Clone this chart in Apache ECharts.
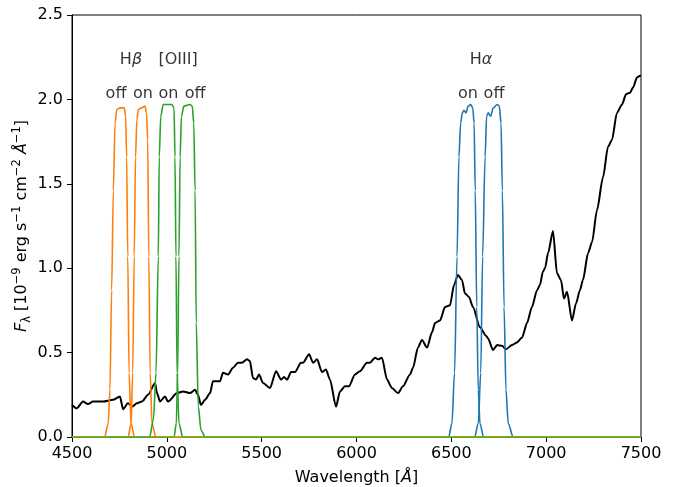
<!DOCTYPE html>
<html>
<head>
<meta charset="utf-8">
<script src="https://cdn.jsdelivr.net/npm/echarts@6/dist/echarts.min.js"></script>
<style>
html,body{margin:0;padding:0;background:#fff;}
#chart{width:684px;height:487px;}
</style>
</head>
<body>
<div id="chart"></div>
<script>
// ---- Data ----
const xTicks = [4500, 5000, 5500, 6000, 6500, 7000, 7500];
const yTicks = [0.0, 0.5, 1.0, 1.5, 2.0, 2.5];

const specWave = [4500,4525,4558,4584,4611,4663,4716,4753,4769,4795,4816,4843,4869,4901,4938,4948,4964,4990,5006,5054,5085,5122,5149,5164,5180,5201,5228,5243,5280,5296,5322,5349,5375,5396,5423,5438,5454,5470,5486,5507,5544,5576,5602,5618,5634,5655,5676,5707,5718,5750,5771,5792,5818,5839,5860,5892,5913,5939,5960,5992,6018,6055,6071,6098,6113,6134,6161,6187,6219,6245,6282,6298,6324,6345,6372,6398,6414,6440,6467,6493,6514,6535,6556,6572,6593,6614,6651,6683,6693,6720,6741,6767,6788,6820,6846,6873,6899,6925,6952,6967,6983,6994,7010,7036,7057,7078,7094,7110,7136,7157,7178,7194,7221,7242,7268,7300,7326,7347,7373,7400,7421,7442,7458,7479,7495,7500];
const specFlux = [0.19,0.17,0.21,0.195,0.21,0.21,0.22,0.24,0.165,0.20,0.18,0.20,0.21,0.25,0.32,0.26,0.21,0.24,0.21,0.26,0.27,0.26,0.28,0.25,0.19,0.22,0.26,0.33,0.33,0.38,0.37,0.41,0.44,0.44,0.46,0.45,0.35,0.34,0.37,0.32,0.29,0.39,0.34,0.355,0.34,0.385,0.385,0.44,0.44,0.49,0.44,0.46,0.385,0.40,0.34,0.18,0.27,0.30,0.30,0.37,0.39,0.44,0.44,0.47,0.46,0.47,0.34,0.29,0.26,0.30,0.37,0.41,0.53,0.575,0.53,0.62,0.675,0.69,0.77,0.78,0.90,0.96,0.93,0.85,0.83,0.77,0.65,0.60,0.585,0.515,0.545,0.54,0.52,0.545,0.56,0.59,0.675,0.77,0.87,0.90,0.98,1.00,1.09,1.22,0.97,0.93,0.82,0.86,0.69,0.79,0.87,0.93,1.09,1.155,1.345,1.54,1.72,1.76,1.92,1.97,2.03,2.04,2.07,2.13,2.14,2.14];

const haOnWave  = [4500,6486,6503,6517,6530,6540,6549,6558,6567,6577,6589,6602,6613,6620,6626,6634,6642,6651,6670,7500];
const haOnT     = [0,0,0.08,0.38,1.07,1.66,1.86,1.92,1.935,1.92,1.96,1.97,1.95,1.86,1.46,0.77,0.28,0.08,0,0];
const haOffWave = [4500,6623,6642,6655,6665,6678,6686,6695,6707,6721,6742,6753,6762,6769,6778,6788,6800,6826,7500];
const haOffT    = [0,0,0.08,0.38,1.07,1.66,1.90,1.92,1.90,1.95,1.97,1.96,1.86,1.46,0.77,0.28,0.08,0,0];

const hbOffWave = [4500,4672,4691,4700,4709,4718,4727,4736,4753,4776,4783,4788,4794,4801,4811,4830,7500];
const hbOffT    = [0,0,0.08,0.28,0.87,1.46,1.86,1.94,1.95,1.95,1.90,1.66,1.07,0.38,0.08,0,0];
const hbOnWave  = [4500,4795,4812,4820,4828,4835,4842,4850,4867,4885,4893,4899,4905,4912,4922,4942,7500];
const hbOnT     = [0,0,0.08,0.38,1.07,1.66,1.88,1.94,1.95,1.96,1.92,1.76,1.07,0.38,0.08,0,0];

const o3OnWave  = [4500,4909,4929,4943,4955,4960,4968,4981,5026,5038,5043,5048,5054,5064,5084,7500];
const o3OnT     = [0,0,0.1,0.38,1.07,1.66,1.90,1.97,1.97,1.95,1.66,1.07,0.38,0.08,0,0];
const o3OffWave = [4500,5038,5050,5057,5064,5070,5077,5090,5122,5134,5142,5149,5155,5166,5180,5203,7500];
const o3OffT    = [0,0,0.08,0.38,1.07,1.66,1.90,1.96,1.97,1.96,1.86,1.46,0.675,0.18,0.04,0,0];

const zeroWave = [4500, 7500];
const zeroT    = [0, 0];

// annotation texts placed at (wavelength, flux)
const labelTexts = ['{n|H}{i|β}', '[OIII]', 'off', 'on', 'on', 'off', '{n|H}{i|α}', 'on', 'off'];
const labelWave  = [4811, 5059, 4732, 4874, 5008, 5149, 6656, 6588, 6725];
const labelFlux  = [2.235, 2.235, 2.03, 2.03, 2.03, 2.03, 2.235, 2.03, 2.03];

// ---- build ----
const zip = (a, b) => a.map((v, i) => [v, b[i]]);
const FONT = 'DejaVu Sans';
const FS = 16;
const BLUE = '#1f77b4', ORANGE = '#ff7f0e', GREEN = '#2ca02c', OLIVE = '#bcbd22';

function lineSeries(name, xs, ys, color, z, width, smooth) {
  return {
    name, type: 'line', data: zip(xs, ys), showSymbol: false, symbol: 'none',
    smooth: smooth, smoothMonotone: 'x',
    lineStyle: { color, width }, itemStyle: { color }, z, animation: false, clip: true
  };
}

const chart = echarts.init(document.getElementById('chart'), null, { renderer: 'canvas' });
chart.setOption({
  animation: false,
  backgroundColor: '#fff',
  grid: { left: 72, right: 43, top: 15, bottom: 50, containLabel: false, outerBoundsMode: 'none',
          show: true, borderColor: '#000', borderWidth: 1, backgroundColor: 'transparent' },
  xAxis: {
    type: 'value', min: xTicks[0], max: xTicks[xTicks.length - 1], interval: 500,
    name: '{n|Wavelength [}{i|Å}{n|]}', nameLocation: 'middle', nameGap: 33, nameMoveOverlap: false,
    nameTextStyle: { rich: { n: { fontFamily: FONT, fontSize: FS, color: '#000' }, i: { fontFamily: FONT, fontSize: FS, fontStyle: 'italic', color: '#000' } } },
    axisLine: { show: true, lineStyle: { color: '#000', width: 1 } },
    axisTick: { show: true, inside: false, length: 5, lineStyle: { color: '#000' } },
    axisLabel: { color: '#000', fontFamily: FONT, fontSize: FS, margin: 9, formatter: v => String(v) },
    splitLine: { show: false }
  },
  yAxis: {
    type: 'value', min: yTicks[0], max: yTicks[yTicks.length - 1], interval: 0.5,
    name: '{i|F}{sub|λ}{n| [10}{sup|−9}{n| erg s}{sup|−1}{n| cm}{sup|−2}{n| }{i|Å}{sup|−1}{n|]}',
    nameLocation: 'middle', nameGap: 39, nameRotate: 90, nameMoveOverlap: false,
    nameTextStyle: {
      lineHeight: 22,
      rich: {
        n: { fontFamily: FONT, fontSize: FS, color: '#000', lineHeight: 22 },
        i: { fontFamily: FONT, fontSize: FS, fontStyle: 'italic', color: '#000', lineHeight: 22 },
        sup: { fontFamily: FONT, fontSize: 11.5, color: '#000', verticalAlign: 'top', lineHeight: 22, padding: [0, 0, 8, 0] },
        sub: { fontFamily: FONT, fontSize: 11.5, color: '#000', verticalAlign: 'bottom', lineHeight: 22, padding: [6, 0, 0, 0] }
      }
    },
    axisLine: { show: true, lineStyle: { color: '#000', width: 1 } },
    axisTick: { show: true, inside: false, length: 5, lineStyle: { color: '#000' } },
    axisLabel: { color: '#000', fontFamily: FONT, fontSize: FS, margin: 9, formatter: v => v.toFixed(1) },
    splitLine: { show: false }
  },
  series: [
    lineSeries('spectrum', specWave, specFlux, '#000', 2, 2, 0.25),
    lineSeries('Ha on', haOnWave, haOnT, BLUE, 3, 1.6, 0.3),
    lineSeries('Ha off', haOffWave, haOffT, BLUE, 3, 1.6, 0.3),
    lineSeries('Hb off', hbOffWave, hbOffT, ORANGE, 4, 1.6, 0.3),
    lineSeries('Hb on', hbOnWave, hbOnT, ORANGE, 4, 1.6, 0.3),
    lineSeries('OIII on', o3OnWave, o3OnT, GREEN, 5, 1.6, 0.3),
    lineSeries('OIII off', o3OffWave, o3OffT, GREEN, 5, 1.6, 0.3),
    lineSeries('zero', zeroWave, zeroT, OLIVE, 6, 1.2, false),
    {
      type: 'scatter', symbolSize: 0, z: 10, animation: false, silent: true,
      data: labelTexts.map((t, i) => ({ value: [labelWave[i], labelFlux[i]], label: { formatter: t } })),
      label: {
        show: true, position: 'inside', color: '#000', fontFamily: FONT, fontSize: FS,
        rich: { n: { fontFamily: FONT, fontSize: FS, color: '#000' }, i: { fontFamily: FONT, fontSize: FS, fontStyle: 'italic', color: '#000' } }
      }
    }
  ]
});
</script>
</body>
</html>
